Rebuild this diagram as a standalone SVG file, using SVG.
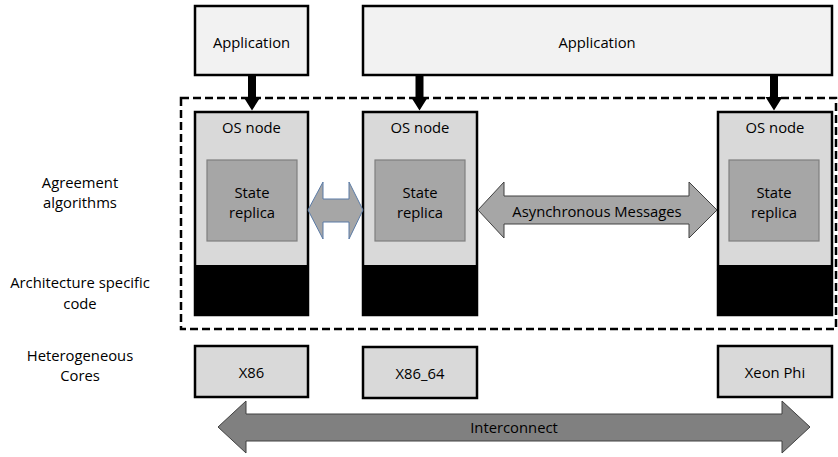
<svg xmlns="http://www.w3.org/2000/svg" width="838" height="457" viewBox="0 0 838 457">
<style>
text{font-family:"Open Sans","Liberation Sans",sans-serif;font-size:14.8px;fill:#000;text-anchor:middle;dominant-baseline:central}
.app{fill:#f2f2f2;stroke:#000;stroke-width:2.5}
.os{fill:#d9d9d9;stroke:#000;stroke-width:2.5}
.blk{fill:#000}
.st{fill:#a6a6a6;stroke:#7f7f7f;stroke-width:1.2}
.core{fill:#d9d9d9;stroke:#000;stroke-width:2.5}
.down{fill:#000}
</style>
<rect x="0" y="0" width="838" height="457" fill="#fff"/>
<g id="labels">
<text x="80" y="182">Agreement</text>
<text x="80" y="202">algorithms</text>
<text x="80" y="282">Architecture specific</text>
<text x="80" y="303">code</text>
<text x="80" y="355">Heterogeneous</text>
<text x="80" y="375">Cores</text>
</g>
<g id="app1"><rect class="app" x="195" y="6" width="113" height="69"/><text x="251.5" y="42">Application</text></g>
<g id="app2"><rect class="app" x="363" y="6" width="469" height="69"/><text x="597" y="42">Application</text></g>
<g id="domain"><rect x="181" y="98" width="655" height="231" fill="none" stroke="#000" stroke-width="2.5" stroke-dasharray="8,4"/></g>
<g id="os1"><rect class="os" x="195" y="112" width="113" height="203"/><rect class="blk" x="194" y="265" width="115" height="51"/><text x="251.5" y="127">OS node</text><rect class="st" x="207" y="160" width="90" height="81"/><text x="252" y="192">State</text><text x="252" y="212">replica</text></g>
<g id="os2"><rect class="os" x="363" y="112" width="114" height="203"/><rect class="blk" x="362" y="265" width="116" height="51"/><text x="420" y="127">OS node</text><rect class="st" x="375" y="160" width="90" height="81"/><text x="420" y="192">State</text><text x="420" y="212">replica</text></g>
<g id="os3"><rect class="os" x="718" y="112" width="114" height="203"/><rect class="blk" x="717" y="265" width="116" height="51"/><text x="775" y="127">OS node</text><rect class="st" x="729" y="160" width="90" height="81"/><text x="774" y="192">State</text><text x="774" y="212">replica</text></g>
<g id="x86"><rect class="core" x="195" y="346" width="113" height="51"/><text x="251.5" y="372">X86</text></g>
<g id="x86_64"><rect class="core" x="363" y="347" width="114" height="51"/><text x="420" y="373">X86_64</text></g>
<g id="xeon"><rect class="core" x="718" y="346" width="114" height="51"/><text x="775" y="372">Xeon Phi</text></g>
<g id="connectors">
<polygon class="down" points="248,75 256,75 256,97 260.5,97 252,110.5 243.5,97 248,97"/>
<polygon class="down" points="415.5,75 423.5,75 423.5,97 428,97 419.5,110.5 411,97 415.5,97"/>
<polygon class="down" points="770,75 778,75 778,97 782.5,97 774,110.5 765.5,97 770,97"/>
<polygon points="308,210 323,182 323,199 349,199 349,182 363,210 349,239 349,222 323,222 323,239" fill="#a6a6a6" stroke="#5b7ba6" stroke-width="1"/>
<polygon points="478,210 504,182 504,196 689,196 689,182 717,210 689,238 689,224 504,224 504,238" fill="#a6a6a6" stroke="#404040" stroke-width="1"/>
<text x="597" y="211">Asynchronous Messages</text>
<polygon points="218,427 246,401 246,414 782,414 782,401 810,427 782,453 782,441 246,441 246,453" fill="#808080" stroke="#404040" stroke-width="1"/>
<text x="514" y="427">Interconnect</text>
</g>
</svg>
